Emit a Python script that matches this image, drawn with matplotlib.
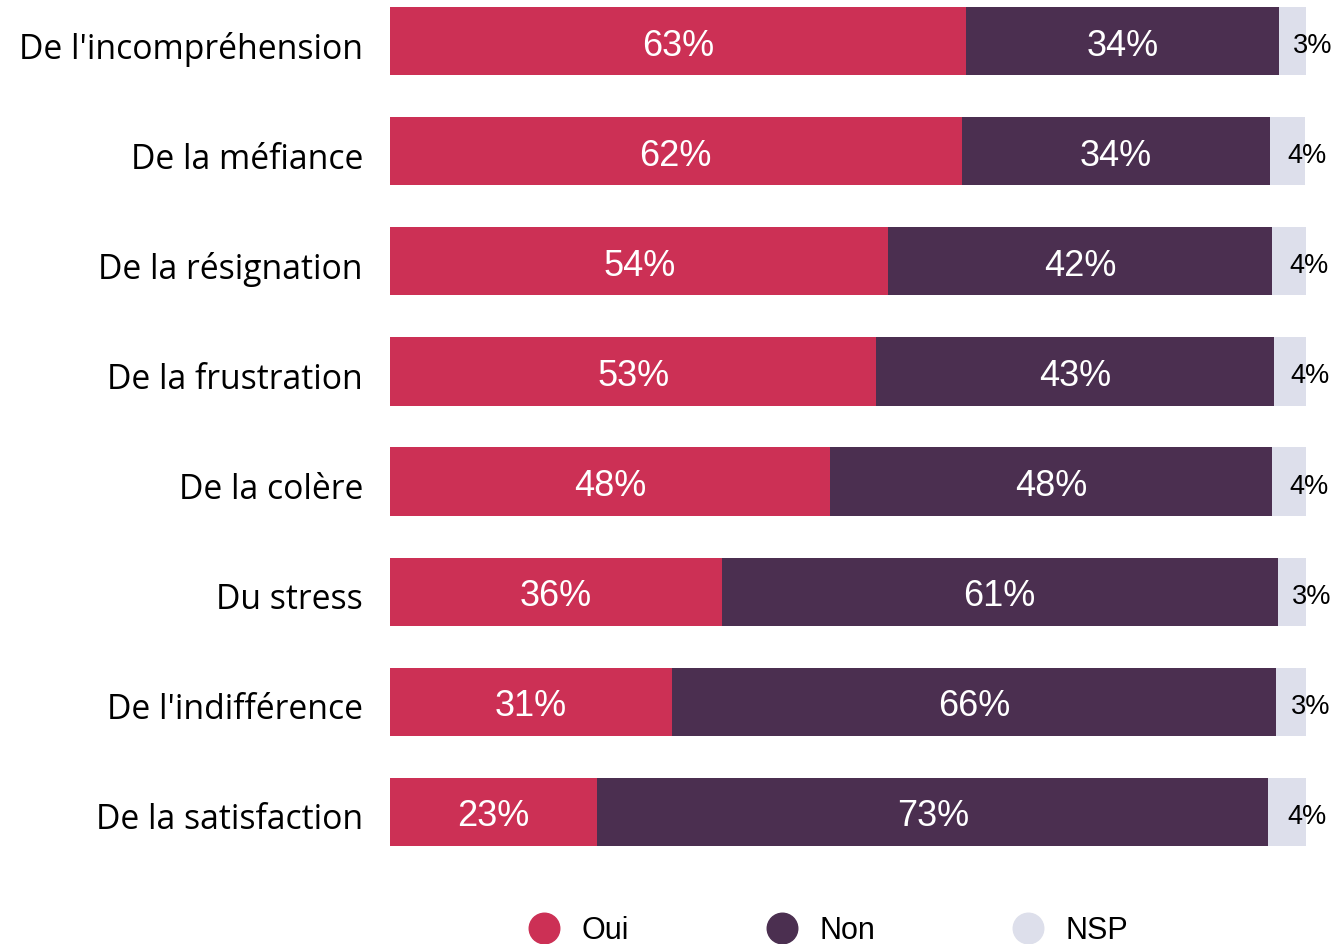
import matplotlib
matplotlib.use("Agg")
import matplotlib.pyplot as plt
import matplotlib.transforms as mtransforms
from matplotlib.lines import Line2D

categories = ["De l'incompréhension", "De la méfiance", "De la résignation", "De la frustration",
              "De la colère", "Du stress", "De l'indifférence", "De la satisfaction"]
oui = [62.9, 62.4, 54.4, 53.1, 48.0, 36.2, 30.8, 22.6]
non = [34.1, 33.7, 41.9, 43.4, 48.3, 60.7, 65.9, 73.3]
nsp = [3.1, 3.8, 3.7, 3.5, 3.7, 3.1, 3.3, 4.1]
series = ["Oui", "Non", "NSP"]
colors = ["#cc3055", "#4b2f50", "#dddfeb"]

fig = plt.figure(figsize=(13.41, 9.44), dpi=100)
ax = fig.add_axes([390 / 1341, 0, 916 / 1341, 1])
y = list(range(len(categories)))

# small nudges for text (inches at dpi 100)
down_num = mtransforms.ScaledTranslation(0, -0.05, fig.dpi_scale_trans)
lbl_off = mtransforms.ScaledTranslation(-0.27, -0.045, fig.dpi_scale_trans)
lbl_trans = mtransforms.blended_transform_factory(ax.transAxes, ax.transData) + lbl_off

left = [0.0] * len(y)
for vals, col, name in zip([oui, non, nsp], colors, series):
    ax.barh(y, vals, left=left, height=0.62, color=col, label=name)
    for yi, v, l in zip(y, vals, left):
        if name == "NSP":
            ax.text(l + v / 2, yi, f"{v:.0f}%", ha="left", va="center", fontsize=19.5, color="black",
                    family="Liberation Sans", transform=ax.transData + down_num)
        else:
            ax.text(l + v / 2, yi, f"{v:.0f}%", ha="center", va="center", fontsize=26, color="white",
                    family="Liberation Sans", transform=ax.transData + down_num)
    left = [a + b for a, b in zip(left, vals)]

for yi, cat in zip(y, categories):
    ax.text(0, yi, cat, ha="right", va="center_baseline", fontsize=24.3, family="Open Sans",
            color="black", transform=lbl_trans)

ax.set_xlim(0, 100)
ax.set_ylim((944 - 41) / 110.14, -41 / 110.14)
ax.set_yticks([])
ax.set_xticks([])
for s in ax.spines.values():
    s.set_visible(False)

handles = [Line2D([], [], ls="none", marker="o", markersize=22, color=c) for c in colors]
fig.legend(handles, series, loc="center", bbox_to_anchor=(0.618, 0.014), ncol=3, frameon=False,
           prop={"family": "Liberation Sans", "size": 22}, handlelength=0.98, handletextpad=0.75,
           columnspacing=4.5)

fig.savefig("out.png", dpi=100)
